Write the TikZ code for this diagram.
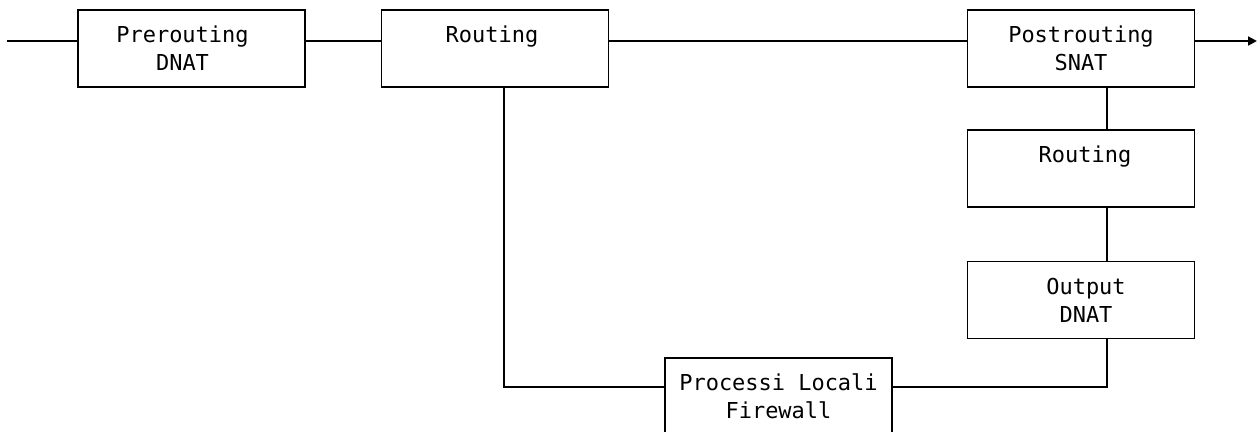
\documentclass[tikz,border=0pt]{standalone}
\usepackage{fontspec}
\setmonofont{DejaVu Sans Mono}
\usepackage{tikz}
\usetikzlibrary{positioning, arrows.meta}

\begin{document}
\begin{tikzpicture}[x=0.02cm, y=-0.02cm, line width=1.1pt,
		stage/.style={draw, rectangle, minimum width=4.54cm, minimum height=1.54cm, inner sep=0pt,
			align=center, font=\ttfamily\fontsize{12.5}{15.9}\selectfont}]
			\useasboundingbox	(0, 0) rectangle (1259, 432);
			\clip	(0, 0) rectangle (1259, 432);
			\node	(pre)	at	(191.5, 48.5)	[stage]	{Prerouting\hspace*{0.36cm}\\DNAT\hspace*{0.36cm}};
			\node	(rout)	at	(495, 48.5)		[stage]	{Routing\hspace*{0.12cm}\\\phantom{DNAT}};
			\node	(post)	at	(1081, 48.5)	[stage]	{Postrouting\\SNAT};
			\node	(rout2)	at	(1081, 168.5)	[stage]	{\hspace*{0.16cm}Routing\\\phantom{DNAT}};
			\node	(out)	at	(1081, 300)		[stage]	{\hspace*{0.2cm}Output\\\hspace*{0.2cm}DNAT};
			\node	(proc)	at	(778.5, 396.5)	[stage]	{Processi Locali\\Firewall};
			\coordinate	(in)	at	(7, 41);
			\coordinate	(exit)	at	(1257, 41);
			\coordinate	(tap)	at	(504, 387);
			\coordinate	(drop)	at	(1107, 387);
			\draw	(in)	 --	(pre.west |- in);
			\draw	(pre.east |- in)	 --	(rout.west |- in);
			\draw	(rout.east |- in)	 --	(post.west |- in);
			\draw	[-{Triangle[length=5pt, width=5pt]}]	(post.east |- exit)	 --	(exit);
			\draw	(post.south -| drop)	 --	(rout2.north -| drop);
			\draw	(rout2.south -| drop)	 --	(out.north -| drop);
			\draw	(rout.south -| tap)	 --	(tap)	 --	(proc.west |- tap);
			\draw	(proc.east |- drop)	 --	(drop)	 --	(out.south -| drop);
		\end{tikzpicture}
\end{document}
